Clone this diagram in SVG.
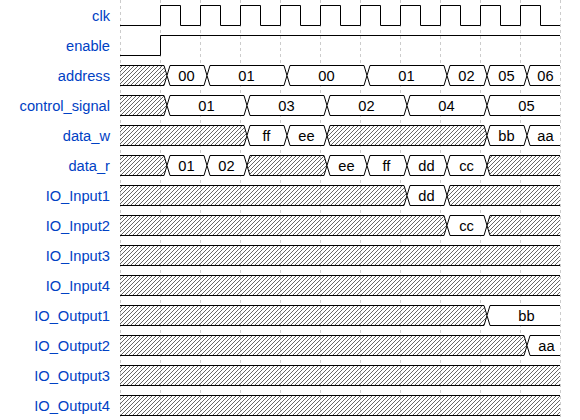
<svg xmlns="http://www.w3.org/2000/svg" width="580" height="420" viewBox="0 0 580 420">
<style>
.lbl{font-family:"Liberation Sans",Arial,sans-serif;font-size:14.67px;fill:#0041c4;text-anchor:end}
.val{font-family:"Liberation Sans",Arial,sans-serif;font-size:14.67px;fill:#000;text-anchor:middle}
.w{fill:none;stroke:#000;stroke-width:1}
.d{fill:#fff;stroke:#000;stroke-width:1}
.x{fill:url(#hatch);stroke:#000;stroke-width:1}
.xf{fill:url(#hatch);stroke:none}
.grid{stroke:#ccc;stroke-width:1;stroke-dasharray:3,3}
</style>
<defs>
<pattern id="hatch" width="4" height="4" patternUnits="userSpaceOnUse">
<path d="M-1,1 l2,-2 M0,4 l4,-4 M3,5 l2,-2" stroke="#000" stroke-width="0.6"/>
</pattern>
</defs>
<rect width="580" height="420" fill="#fff"/>
<g id="gridlines">
<line class="grid" x1="120.5" y1="0" x2="120.5" y2="420"/>
<line class="grid" x1="160.5" y1="0" x2="160.5" y2="420"/>
<line class="grid" x1="200.5" y1="0" x2="200.5" y2="420"/>
<line class="grid" x1="240.5" y1="0" x2="240.5" y2="420"/>
<line class="grid" x1="280.5" y1="0" x2="280.5" y2="420"/>
<line class="grid" x1="320.5" y1="0" x2="320.5" y2="420"/>
<line class="grid" x1="360.5" y1="0" x2="360.5" y2="420"/>
<line class="grid" x1="400.5" y1="0" x2="400.5" y2="420"/>
<line class="grid" x1="440.5" y1="0" x2="440.5" y2="420"/>
<line class="grid" x1="480.5" y1="0" x2="480.5" y2="420"/>
<line class="grid" x1="520.5" y1="0" x2="520.5" y2="420"/>
<line class="grid" x1="560.5" y1="0" x2="560.5" y2="420"/>
</g>
<g id="connectors"></g>
<g id="clk">
<text class="lbl" x="110" y="20.5">clk</text>
<path class="w" d="M120,25.5 H160.5 V5.5 H180.5 V25.5 H200.5 V5.5 H220.5 V25.5 H240.5 V5.5 H260.5 V25.5 H280.5 V5.5 H300.5 V25.5 H320.5 V5.5 H340.5 V25.5 H360.5 V5.5 H380.5 V25.5 H400.5 V5.5 H420.5 V25.5 H440.5 V5.5 H460.5 V25.5 H480.5 V5.5 H500.5 V25.5 H520.5 V5.5 H540.5 V25.5 H560"/>
</g>
<g id="enable">
<text class="lbl" x="110" y="50.5">enable</text>
<path class="w" d="M120,55.5 H160.5 V35.5 H560"/>
</g>
<g id="address">
<text class="lbl" x="110" y="80.5">address</text>
<path class="x" d="M120,65.5 L164,65.5 L167,75.5 L164,85.5 L120,85.5"/>
<path class="d" d="M167,75.5 L170,65.5 L204,65.5 L207,75.5 L204,85.5 L170,85.5 Z"/>
<path class="d" d="M207,75.5 L210,65.5 L284,65.5 L287,75.5 L284,85.5 L210,85.5 Z"/>
<path class="d" d="M287,75.5 L290,65.5 L364,65.5 L367,75.5 L364,85.5 L290,85.5 Z"/>
<path class="d" d="M367,75.5 L370,65.5 L444,65.5 L447,75.5 L444,85.5 L370,85.5 Z"/>
<path class="d" d="M447,75.5 L450,65.5 L484,65.5 L487,75.5 L484,85.5 L450,85.5 Z"/>
<path class="d" d="M487,75.5 L490,65.5 L524,65.5 L527,75.5 L524,85.5 L490,85.5 Z"/>
<path class="d" d="M560,65.5 L530,65.5 L527,75.5 L530,85.5 L560,85.5"/>
<text class="val" x="186.5" y="80.5">00</text>
<text class="val" x="246.5" y="80.5">01</text>
<text class="val" x="326.5" y="80.5">00</text>
<text class="val" x="406.5" y="80.5">01</text>
<text class="val" x="466.5" y="80.5">02</text>
<text class="val" x="506.5" y="80.5">05</text>
<text class="val" x="545.5" y="80.5">06</text>
</g>
<g id="control_signal">
<text class="lbl" x="110" y="110.5">control_signal</text>
<path class="x" d="M120,95.5 L164,95.5 L167,105.5 L164,115.5 L120,115.5"/>
<path class="d" d="M167,105.5 L170,95.5 L244,95.5 L247,105.5 L244,115.5 L170,115.5 Z"/>
<path class="d" d="M247,105.5 L250,95.5 L324,95.5 L327,105.5 L324,115.5 L250,115.5 Z"/>
<path class="d" d="M327,105.5 L330,95.5 L404,95.5 L407,105.5 L404,115.5 L330,115.5 Z"/>
<path class="d" d="M407,105.5 L410,95.5 L484,95.5 L487,105.5 L484,115.5 L410,115.5 Z"/>
<path class="d" d="M560,95.5 L490,95.5 L487,105.5 L490,115.5 L560,115.5"/>
<text class="val" x="206.5" y="110.5">01</text>
<text class="val" x="286.5" y="110.5">03</text>
<text class="val" x="366.5" y="110.5">02</text>
<text class="val" x="446.5" y="110.5">04</text>
<text class="val" x="526.5" y="110.5">05</text>
</g>
<g id="data_w">
<text class="lbl" x="110" y="140.5">data_w</text>
<path class="x" d="M120,125.5 L244,125.5 L247,135.5 L244,145.5 L120,145.5"/>
<path class="d" d="M247,135.5 L250,125.5 L284,125.5 L287,135.5 L284,145.5 L250,145.5 Z"/>
<path class="d" d="M287,135.5 L290,125.5 L324,125.5 L327,135.5 L324,145.5 L290,145.5 Z"/>
<path class="x" d="M327,135.5 L330,125.5 L484,125.5 L487,135.5 L484,145.5 L330,145.5 Z"/>
<path class="d" d="M487,135.5 L490,125.5 L524,125.5 L527,135.5 L524,145.5 L490,145.5 Z"/>
<path class="d" d="M560,125.5 L530,125.5 L527,135.5 L530,145.5 L560,145.5"/>
<text class="val" x="266.5" y="140.5">ff</text>
<text class="val" x="306.5" y="140.5">ee</text>
<text class="val" x="506.5" y="140.5">bb</text>
<text class="val" x="545.5" y="140.5">aa</text>
</g>
<g id="data_r">
<text class="lbl" x="110" y="170.5">data_r</text>
<path class="x" d="M120,155.5 L164,155.5 L167,165.5 L164,175.5 L120,175.5"/>
<path class="d" d="M167,165.5 L170,155.5 L204,155.5 L207,165.5 L204,175.5 L170,175.5 Z"/>
<path class="d" d="M207,165.5 L210,155.5 L244,155.5 L247,165.5 L244,175.5 L210,175.5 Z"/>
<path class="x" d="M247,165.5 L250,155.5 L324,155.5 L327,165.5 L324,175.5 L250,175.5 Z"/>
<path class="d" d="M327,165.5 L330,155.5 L364,155.5 L367,165.5 L364,175.5 L330,175.5 Z"/>
<path class="d" d="M367,165.5 L370,155.5 L404,155.5 L407,165.5 L404,175.5 L370,175.5 Z"/>
<path class="d" d="M407,165.5 L410,155.5 L444,155.5 L447,165.5 L444,175.5 L410,175.5 Z"/>
<path class="d" d="M447,165.5 L450,155.5 L484,155.5 L487,165.5 L484,175.5 L450,175.5 Z"/>
<path class="x" d="M560,155.5 L490,155.5 L487,165.5 L490,175.5 L560,175.5"/>
<text class="val" x="186.5" y="170.5">01</text>
<text class="val" x="226.5" y="170.5">02</text>
<text class="val" x="346.5" y="170.5">ee</text>
<text class="val" x="386.5" y="170.5">ff</text>
<text class="val" x="426.5" y="170.5">dd</text>
<text class="val" x="466.5" y="170.5">cc</text>
</g>
<g id="IO_Input1">
<text class="lbl" x="110" y="200.5">IO_Input1</text>
<path class="x" d="M120,185.5 L404,185.5 L407,195.5 L404,205.5 L120,205.5"/>
<path class="d" d="M407,195.5 L410,185.5 L444,185.5 L447,195.5 L444,205.5 L410,205.5 Z"/>
<path class="x" d="M560,185.5 L450,185.5 L447,195.5 L450,205.5 L560,205.5"/>
<text class="val" x="426.5" y="200.5">dd</text>
</g>
<g id="IO_Input2">
<text class="lbl" x="110" y="230.5">IO_Input2</text>
<path class="x" d="M120,215.5 L444,215.5 L447,225.5 L444,235.5 L120,235.5"/>
<path class="d" d="M447,225.5 L450,215.5 L484,215.5 L487,225.5 L484,235.5 L450,235.5 Z"/>
<path class="x" d="M560,215.5 L490,215.5 L487,225.5 L490,235.5 L560,235.5"/>
<text class="val" x="466.5" y="230.5">cc</text>
</g>
<g id="IO_Input3">
<text class="lbl" x="110" y="260.5">IO_Input3</text>
<rect class="xf" x="120" y="245.5" width="440" height="20"/>
<path class="w" d="M120,245.5 H560 M120,265.5 H560"/>
</g>
<g id="IO_Input4">
<text class="lbl" x="110" y="290.5">IO_Input4</text>
<rect class="xf" x="120" y="275.5" width="440" height="20"/>
<path class="w" d="M120,275.5 H560 M120,295.5 H560"/>
</g>
<g id="IO_Output1">
<text class="lbl" x="110" y="320.5">IO_Output1</text>
<path class="x" d="M120,305.5 L484,305.5 L487,315.5 L484,325.5 L120,325.5"/>
<path class="d" d="M560,305.5 L490,305.5 L487,315.5 L490,325.5 L560,325.5"/>
<text class="val" x="526.5" y="320.5">bb</text>
</g>
<g id="IO_Output2">
<text class="lbl" x="110" y="350.5">IO_Output2</text>
<path class="x" d="M120,335.5 L524,335.5 L527,345.5 L524,355.5 L120,355.5"/>
<path class="d" d="M560,335.5 L530,335.5 L527,345.5 L530,355.5 L560,355.5"/>
<text class="val" x="546.5" y="350.5">aa</text>
</g>
<g id="IO_Output3">
<text class="lbl" x="110" y="380.5">IO_Output3</text>
<rect class="xf" x="120" y="365.5" width="440" height="20"/>
<path class="w" d="M120,365.5 H560 M120,385.5 H560"/>
</g>
<g id="IO_Output4">
<text class="lbl" x="110" y="410.5">IO_Output4</text>
<rect class="xf" x="120" y="395.5" width="440" height="20"/>
<path class="w" d="M120,395.5 H560 M120,415.5 H560"/>
</g>
</svg>
